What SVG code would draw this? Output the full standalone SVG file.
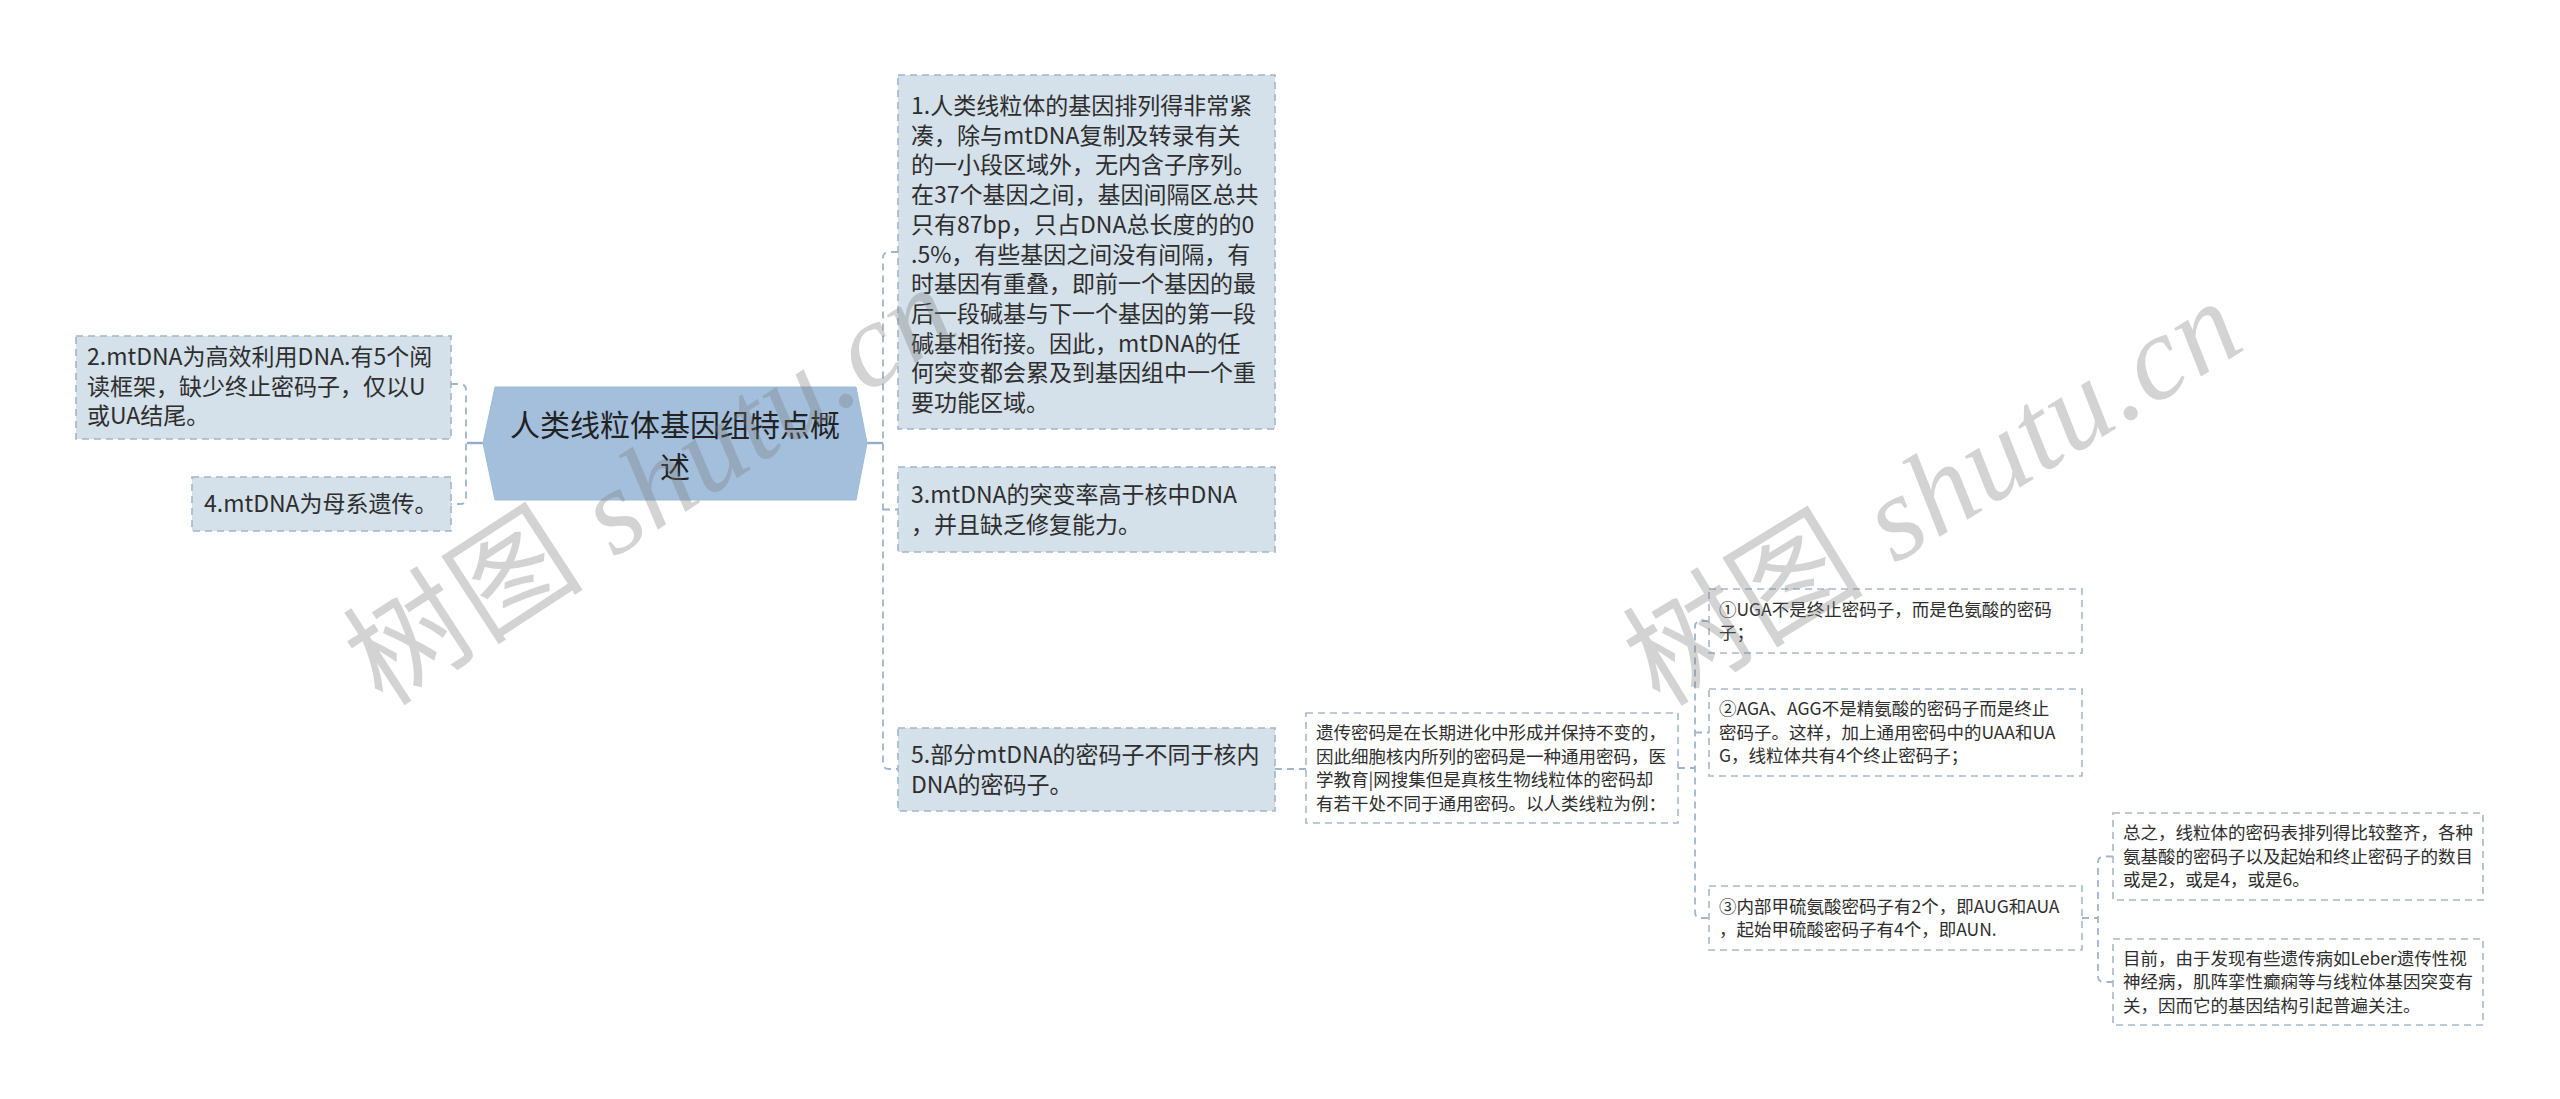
<svg xmlns="http://www.w3.org/2000/svg" width="2560" height="1099" viewBox="0 0 2560 1099">
<defs>
<style>
.bg{fill:#ffffff}
.root{fill:#a3bfdc;stroke:#9dbad8;stroke-width:1}
.n1{fill:#d4e0ea;stroke:#a3b6c7;stroke-width:1.6;stroke-dasharray:7 5}
.n2{fill:#ffffff;stroke:#a9b9c7;stroke-width:1.6;stroke-dasharray:7 5}
.t{font-family:"Noto Sans CJK SC","Noto Sans",sans-serif;fill:#2e2e2e}
.rt{font-size:30px;fill:#222;text-anchor:middle}
.t1{font-size:23px}
.t2{font-size:17.5px}
.c{fill:none;stroke:#9fb6cc;stroke-width:1.8;stroke-dasharray:7 5}
.cs{fill:none;stroke:#8fadcb;stroke-width:2.4}
.wm{font-family:"Liberation Serif","Noto Sans CJK SC",serif;font-size:120px;fill:#7a7a7a;opacity:0.32}
.wmi{font-style:italic}
</style>
</defs>
<rect class="bg" x="0" y="0" width="2560" height="1099"/>

<g id="connectors">
<path class="cs" d="M867 443 H883"/>
<path class="c" d="M898 252 H889 Q883 252 883 258 V763 Q883 769 889 769 H898"/>
<path class="c" d="M883 509.5 H898"/>
<path class="cs" d="M483 443 H467"/>
<path class="c" d="M451 384 H460 Q466 384 466 390 V498 Q466 504 460 504 H451"/>
<path class="c" d="M1275 769 H1306"/>
<path class="c" d="M1678 768 H1695"/>
<path class="c" d="M1709 621 H1701 Q1695 621 1695 627 V912 Q1695 918 1701 918 H1709"/>
<path class="c" d="M1695 732.5 H1709"/>
<path class="c" d="M2082 918 H2098"/>
<path class="c" d="M2113 856.5 H2104 Q2098 856.5 2098 862.5 V976 Q2098 982 2104 982 H2113"/>
</g>

<g id="root">
<polygon class="root" points="483,443 495,387 856,387 867,443 856,500 495,500"/>
<text class="t rt" x="675" y="436">人类线粒体基因组特点概</text>
<text class="t rt" x="675" y="478">述</text>
</g>

<g id="node1">
<rect class="n1" x="898" y="75" width="377" height="354"/>
<g class="t t1">
<text x="911" y="114">1.人类线粒体的基因排列得非常紧</text>
<text x="911" y="143.7">凑，除与mtDNA复制及转录有关</text>
<text x="911" y="173.4">的一小段区域外，无内含子序列。</text>
<text x="911" y="203.1">在37个基因之间，基因间隔区总共</text>
<text x="911" y="232.8">只有87bp，只占DNA总长度的的0</text>
<text x="911" y="262.5">.5%，有些基因之间没有间隔，有</text>
<text x="911" y="292.2">时基因有重叠，即前一个基因的最</text>
<text x="911" y="321.9">后一段碱基与下一个基因的第一段</text>
<text x="911" y="351.6">碱基相衔接。因此，mtDNA的任</text>
<text x="911" y="381.3">何突变都会累及到基因组中一个重</text>
<text x="911" y="411">要功能区域。</text>
</g>
</g>

<g id="node2">
<rect class="n1" x="76" y="336" width="375" height="103"/>
<g class="t t1">
<text x="87" y="365">2.mtDNA为高效利用DNA.有5个阅</text>
<text x="87" y="395">读框架，缺少终止密码子，仅以U</text>
<text x="87" y="424">或UA结尾。</text>
</g>
</g>

<g id="node3">
<rect class="n1" x="898" y="467" width="377" height="85"/>
<g class="t t1">
<text x="911" y="503">3.mtDNA的突变率高于核中DNA</text>
<text x="911" y="533">，并且缺乏修复能力。</text>
</g>
</g>

<g id="node4">
<rect class="n1" x="192" y="477" width="259" height="54"/>
<text class="t t1" x="204" y="512">4.mtDNA为母系遗传。</text>
</g>

<g id="node5">
<rect class="n1" x="898" y="728" width="377" height="83"/>
<g class="t t1">
<text x="911" y="762.5">5.部分mtDNA的密码子不同于核内</text>
<text x="911" y="792.5">DNA的密码子。</text>
</g>
</g>

<g id="node5a">
<rect class="n2" x="1306" y="713" width="372" height="110"/>
<g class="t t2">
<text x="1316" y="739">遗传密码是在长期进化中形成并保持不变的，</text>
<text x="1316" y="762.5">因此细胞核内所列的密码是一种通用密码，医</text>
<text x="1316" y="786">学教育|网搜集但是真核生物线粒体的密码却</text>
<text x="1316" y="809.5">有若干处不同于通用密码。以人类线粒为例：</text>
</g>
</g>

<g id="node5a1">
<rect class="n2" x="1709" y="589" width="373" height="64"/>
<g class="t t2">
<text x="1719" y="615.5">①UGA不是终止密码子，而是色氨酸的密码</text>
<text x="1719" y="639">子；</text>
</g>
</g>

<g id="node5a2">
<rect class="n2" x="1709" y="689" width="373" height="87"/>
<g class="t t2">
<text x="1719" y="715">②AGA、AGG不是精氨酸的密码子而是终止</text>
<text x="1719" y="738.5">密码子。这样，加上通用密码中的UAA和UA</text>
<text x="1719" y="762">G，线粒体共有4个终止密码子；</text>
</g>
</g>

<g id="node5a3">
<rect class="n2" x="1709" y="886" width="373" height="64"/>
<g class="t t2">
<text x="1719" y="912.5">③内部甲硫氨酸密码子有2个，即AUG和AUA</text>
<text x="1719" y="936">，起始甲硫酸密码子有4个，即AUN.</text>
</g>
</g>

<g id="node5a3a">
<rect class="n2" x="2113" y="813" width="370" height="87"/>
<g class="t t2">
<text x="2123" y="839">总之，线粒体的密码表排列得比较整齐，各种</text>
<text x="2123" y="862.5">氨基酸的密码子以及起始和终止密码子的数目</text>
<text x="2123" y="886">或是2，或是4，或是6。</text>
</g>
</g>

<g id="node5a3b">
<rect class="n2" x="2113" y="939" width="370" height="86"/>
<g class="t t2">
<text x="2123" y="964.5">目前，由于发现有些遗传病如Leber遗传性视</text>
<text x="2123" y="988">神经病，肌阵挛性癫痫等与线粒体基因突变有</text>
<text x="2123" y="1011.5">关，因而它的基因结构引起普遍关注。</text>
</g>
</g>

<g id="watermarks">
<text class="wm" transform="translate(383,708) rotate(-33)" textLength="690" lengthAdjust="spacing">树图 <tspan class="wmi">shutu.cn</tspan></text>
<text class="wm" transform="translate(1660,708) rotate(-31.5)" textLength="690" lengthAdjust="spacing">树图 <tspan class="wmi">shutu.cn</tspan></text>
</g>
</svg>
